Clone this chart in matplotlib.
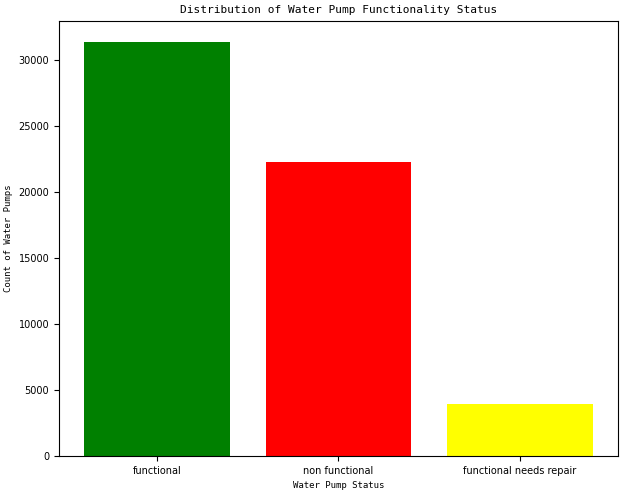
import matplotlib
matplotlib.use("Agg")
import matplotlib.pyplot as plt

statuses = ["functional", "non functional", "functional needs repair"]
counts = [31360, 22270, 3940]
bar_colors = ["green", "red", "yellow"]

fig = plt.figure(figsize=(6.24, 4.93), dpi=100)
ax = fig.add_axes([59 / 624, 37 / 493, 559 / 624, 435 / 493])
ax.bar(statuses, counts, color=bar_colors)
ax.set_title("Distribution of Water Pump Functionality Status", fontfamily="monospace", fontsize=8)
ax.set_xlabel("Water Pump Status", fontfamily="monospace", fontsize=6.5)
ax.set_ylabel("Count of Water Pumps", fontfamily="monospace", fontsize=6.5)
ax.tick_params(labelsize=7)
fig.savefig("out.png", dpi=100)
